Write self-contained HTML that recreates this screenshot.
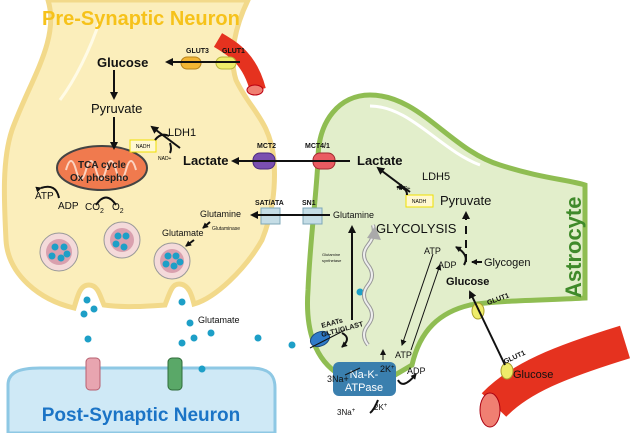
<!DOCTYPE html>
<html><head><meta charset="utf-8"><style>
html,body{margin:0;padding:0;background:#fff;}
svg{display:block;font-family:"Liberation Sans",sans-serif;}
</style></head><body>
<svg width="631" height="433" viewBox="0 0 631 433" xmlns="http://www.w3.org/2000/svg">
<defs>
<marker id="a" markerWidth="8" markerHeight="8" refX="6" refY="4" orient="auto" markerUnits="userSpaceOnUse"><path d="M0,0 L8,4 L0,8 Z" fill="#111"/></marker>
<marker id="s" markerWidth="6" markerHeight="6" refX="5" refY="3" orient="auto" markerUnits="userSpaceOnUse"><path d="M0,0 L6,3 L0,6 Z" fill="#111"/></marker>
</defs>
<!-- pre-synaptic neuron -->
<path d="M48,0 C60,40 30,80 12,130 C2,160 4,200 6,240 C8,275 40,300 74,308 C78,295 80,285 89,285 C98,285 100,296 104,305 C125,308 150,306 165,305 C170,292 172,284 179,284 C189,284 192,296 194,304 C215,298 245,270 262,240 C272,215 276,190 274,160 C270,120 250,110 236,80 C228,55 236,25 248,0 Z" fill="#fbeebb" stroke="#f2d98a" stroke-width="5"/>
<path d="M100,20 C90,50 75,80 60,100" stroke="#fffbe6" stroke-width="3" fill="none"/>
<!-- post synaptic -->
<path d="M8,433 L8,385 C8,372 20,368 40,368 L250,368 C268,368 275,374 275,388 L275,433 Z" fill="#cfe9f6" stroke="#8ec8e4" stroke-width="3"/>
<rect x="86" y="358" width="14" height="32" rx="4" fill="#e8a5b0" stroke="#b76070"/>
<rect x="168" y="358" width="14" height="32" rx="4" fill="#5aa868" stroke="#2f6b3a"/>
<text x="141" y="421" font-size="19" font-weight="bold" fill="#1b74c6" text-anchor="middle">Post-Synaptic Neuron</text>
<!-- astrocyte -->
<path d="M318,160 C318,120 340,95 370,95 C420,95 450,150 500,165 C540,178 570,180 585,185 L585,298 C555,300 500,300 470,305 C440,312 420,330 412,365 L395,375 L340,375 C315,360 305,330 308,290 C310,240 316,200 318,160 Z" fill="#e2eecb" stroke="#8fbd52" stroke-width="5"/>
<path d="M370,106 C410,106 440,150 480,165" stroke="#fff" stroke-width="3" fill="none"/>
<text transform="translate(581,298) rotate(-90)" font-size="22" font-weight="bold" fill="#3f8a2a">Astrocyte</text>
<!-- vesicles -->
<g stroke="#999" fill="#f4dada"><circle cx="59" cy="252" r="19"/><circle cx="122" cy="240" r="18"/><circle cx="172" cy="261" r="18"/></g>
<g fill="#d9a0ae"><circle cx="59" cy="252" r="13"/><circle cx="122" cy="240" r="12"/><circle cx="172" cy="261" r="12"/></g>
<g fill="#1d9fc7">
<circle cx="55" cy="247" r="3.5"/><circle cx="64" cy="247" r="3.5"/><circle cx="52" cy="256" r="3.5"/><circle cx="61" cy="258" r="3.5"/><circle cx="67" cy="254" r="3.5"/>
<circle cx="118" cy="236" r="3.5"/><circle cx="126" cy="236" r="3.5"/><circle cx="116" cy="244" r="3.5"/><circle cx="124" cy="247" r="3.5"/>
<circle cx="168" cy="256" r="3.5"/><circle cx="176" cy="256" r="3.5"/><circle cx="166" cy="264" r="3.5"/><circle cx="174" cy="266" r="3.5"/><circle cx="180" cy="262" r="3.5"/>
<circle cx="87" cy="300" r="3.5"/><circle cx="94" cy="309" r="3.5"/><circle cx="84" cy="314" r="3.5"/><circle cx="88" cy="339" r="3.5"/>
<circle cx="182" cy="302" r="3.5"/><circle cx="190" cy="323" r="3.5"/><circle cx="194" cy="338" r="3.5"/><circle cx="182" cy="343" r="3.5"/><circle cx="211" cy="333" r="3.5"/><circle cx="202" cy="369" r="3.5"/><circle cx="258" cy="338" r="3.5"/><circle cx="292" cy="345" r="3.5"/><circle cx="360" cy="292" r="3.5"/>
</g>
<!-- mitochondrion -->
<ellipse cx="102" cy="168" rx="45" ry="22" fill="#f07a4e" stroke="#444" stroke-width="2"/>
<path d="M66,170 q5,-18 10,0 t10,0 t10,0 t10,0 t10,0 t10,0 t10,0" stroke="#fbd3c0" stroke-width="2" fill="none"/>
<text x="78" y="168" font-size="10" font-weight="bold" fill="#222">TCA cycle</text>
<text x="70" y="181" font-size="10" font-weight="bold" fill="#222">Ox phospho</text>
<!-- top blood vessel -->
<path d="M218,40 C235,50 250,60 258,90" stroke="#e5321f" stroke-width="16" fill="none"/>
<ellipse cx="255" cy="90" rx="8" ry="5" fill="#f07f72" stroke="#b01" />
<!-- bottom blood vessel -->
<path d="M494,405 C520,378 560,362 625,342" stroke="#e5321f" stroke-width="34" fill="none"/>
<ellipse cx="490" cy="410" rx="10" ry="17" fill="#f07f72" stroke="#a01"/>
<!-- transporters -->
<rect x="181" y="57" width="20" height="12" rx="6" fill="#f2b533" stroke="#b7811a"/>
<rect x="216" y="57" width="20" height="12" rx="6" fill="#eeec6a" stroke="#b7b53a"/>
<rect x="253" y="153" width="22" height="16" rx="7" fill="#7a4fb0" stroke="#4a2a80"/>
<rect x="313" y="153" width="22" height="16" rx="7" fill="#ea5b62" stroke="#a02a30"/>
<rect x="261" y="208" width="19" height="16" fill="#c5dde6" stroke="#7fa8b8"/>
<rect x="303" y="208" width="19" height="16" fill="#c5dde6" stroke="#7fa8b8"/>
<ellipse cx="320" cy="339" rx="10" ry="7" fill="#2f7bc9" stroke="#1a4a80" transform="rotate(-25 320 339)"/>
<ellipse cx="478" cy="311" rx="6" ry="8" fill="#eeec6a" stroke="#aaa030"/>
<ellipse cx="507" cy="371" rx="6" ry="8" fill="#eeec6a" stroke="#aaa030"/>
<rect x="333" y="362" width="63" height="34" rx="6" fill="#3a7fae"/>
<text x="364" y="378" font-size="11" fill="#fff" text-anchor="middle">Na-K-</text>
<text x="364" y="391" font-size="11" fill="#fff" text-anchor="middle">ATPase</text>
<!-- labels -->
<text x="42" y="25" font-size="20" font-weight="bold" fill="#f6c21a">Pre-Synaptic Neuron</text>
<g font-size="7" font-weight="bold" fill="#111">
<text x="186" y="53">GLUT3</text><text x="222" y="53">GLUT1</text>
<text x="257" y="148">MCT2</text><text x="305" y="148">MCT4/1</text>
<text x="255" y="205">SAT/ATA</text><text x="302" y="205">SN1</text>
<text x="322" y="328" transform="rotate(-15 322 328)">EAATs</text><text x="322" y="337" transform="rotate(-15 322 337)">GLT1/GLAST</text>
<text x="488" y="305" transform="rotate(-20 488 305)">GLUT1</text><text x="505" y="364" transform="rotate(-25 505 364)">GLUT1</text>
</g>
<g fill="#111">
<text x="97" y="67" font-size="13" font-weight="bold">Glucose</text>
<text x="91" y="113" font-size="13">Pyruvate</text>
<text x="168" y="136" font-size="11">LDH1</text>
<text x="183" y="165" font-size="13" font-weight="bold">Lactate</text>
<text x="35" y="199" font-size="10">ATP</text><text x="58" y="209" font-size="10">ADP</text>
<text x="85" y="210" font-size="10">CO<tspan font-size="7" dy="3">2</tspan></text><text x="112" y="210" font-size="10">O<tspan font-size="7" dy="3">2</tspan></text>
<text x="200" y="217" font-size="9">Glutamine</text><text x="162" y="236" font-size="9">Glutamate</text>
<text x="212" y="230" font-size="5">Glutaminase</text>
<text x="198" y="323" font-size="9">Glutamate</text>
<text x="357" y="165" font-size="13" font-weight="bold">Lactate</text>
<text x="422" y="180" font-size="11">LDH5</text>
<text x="440" y="205" font-size="13">Pyruvate</text>
<text x="333" y="218" font-size="9">Glutamine</text>
<text x="376" y="233" font-size="13">GLYCOLYSIS</text>
<text x="424" y="254" font-size="9">ATP</text><text x="438" y="268" font-size="9">ADP</text>
<text x="484" y="266" font-size="11">Glycogen</text>
<text x="446" y="285" font-size="11" font-weight="bold">Glucose</text>
<text x="322" y="256" font-size="4">Glutamine</text><text x="322" y="262" font-size="4">synthetase</text>
<text x="395" y="358" font-size="9">ATP</text><text x="407" y="374" font-size="9">ADP</text>
<text x="380" y="372" font-size="9">2K<tspan font-size="6" dy="-3">+</tspan></text>
<text x="327" y="382" font-size="9">3Na+</text>
<text x="337" y="415" font-size="8">3Na<tspan font-size="6" dy="-3">+</tspan></text><text x="374" y="410" font-size="8">2K<tspan font-size="6" dy="-3">+</tspan></text>
<text x="513" y="378" font-size="11">Glucose</text>
</g>
<rect x="130" y="140" width="26" height="12" fill="#fff8d0" stroke="#f0e000"/>
<text x="143" y="148" font-size="5" text-anchor="middle">NADH</text>
<text x="158" y="160" font-size="5">NAD+</text>
<rect x="406" y="195" width="27" height="12" fill="#fff8d0" stroke="#f0e000"/>
<text x="419" y="203" font-size="5" text-anchor="middle">NADH</text>
<text x="397" y="190" font-size="5">NAD+</text>
<!-- arrows -->
<g stroke="#111" stroke-width="2" fill="none">
<line x1="240" y1="62" x2="167" y2="62" marker-end="url(#a)"/>
<line x1="114" y1="70" x2="114" y2="98" marker-end="url(#a)"/>
<line x1="114" y1="117" x2="114" y2="148" marker-end="url(#a)"/>
<line x1="180" y1="148" x2="152" y2="127" marker-end="url(#a)"/>
<path d="M155,140 q6,-8 14,-4" /><path d="M170,143 q2,6 0,10"/>
<line x1="350" y1="161" x2="233" y2="161" marker-end="url(#a)"/>
<line x1="410" y1="192" x2="378" y2="168" marker-end="url(#a)"/>
<path d="M407,195 q0,-8 -10,-8" marker-end="url(#s)"/>
<line x1="330" y1="215" x2="252" y2="215" marker-end="url(#a)"/>
<line x1="352" y1="320" x2="352" y2="227" marker-end="url(#a)"/>
<line x1="466" y1="262" x2="466" y2="213" stroke-dasharray="8,6" marker-end="url(#a)"/>
<line x1="482" y1="262" x2="472" y2="262" marker-end="url(#s)"/>
<path d="M464,265 q6,-10 -8,-18" marker-end="url(#s)"/>
<line x1="505" y1="365" x2="470" y2="292" marker-end="url(#a)"/>
<path d="M342,333 q10,5 0,14" marker-end="url(#s)"/>
<path d="M398,380 q5,10 18,-6" marker-end="url(#s)"/>
<path d="M378,400 q-4,10 -8,13"/>
</g>
<g stroke="#111" stroke-width="1" fill="none">
<line x1="310" y1="348" x2="345" y2="330"/>
<line x1="345" y1="375" x2="360" y2="368"/>
<line x1="383" y1="360" x2="383" y2="350" marker-end="url(#s)"/>
<line x1="433" y1="254" x2="402" y2="345" marker-end="url(#s)"/>
<line x1="411" y1="350" x2="440" y2="265" marker-end="url(#s)"/>
<path d="M41,188 q15,-5 18,10" stroke-width="2" marker-start="url(#s)"/>
<path d="M96,205 q10,-15 20,0" stroke-width="2"/>
<line x1="210" y1="222" x2="203" y2="228" stroke-width="2" marker-end="url(#s)"/>
<line x1="194" y1="240" x2="186" y2="246" stroke-width="2" marker-end="url(#s)"/>
</g>
<path d="M368,345 q-8,-10 0,-20 t0,-20 t0,-20 t0,-20 t0,-20 t5,-20" stroke="#999" stroke-width="4" fill="none"/>
<path d="M368,345 q-8,-10 0,-20 t0,-20 t0,-20 t0,-20 t0,-20 t5,-20" stroke="#eee" stroke-width="2" fill="none"/>
<path d="M367,238 l8,-12 l6,14 z" fill="#aaa"/>
</svg>
</body></html>
